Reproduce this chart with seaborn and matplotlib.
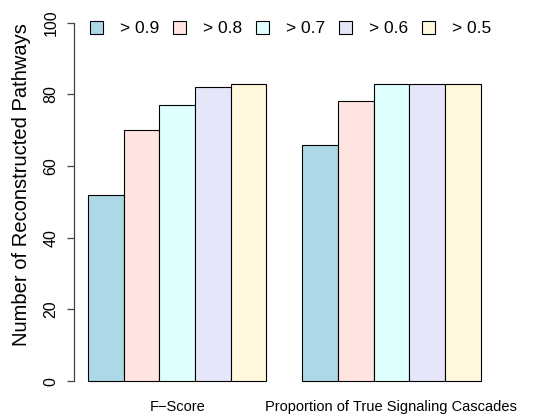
import matplotlib
matplotlib.use("Agg")
import matplotlib.pyplot as plt
from matplotlib.patches import Patch
import pandas as pd
import seaborn as sns

metrics = ["F\u2212Score", "Proportion of True Signaling Cascades"]
thresholds = ["> 0.9", "> 0.8", "> 0.7", "> 0.6", "> 0.5"]
fscore = [52, 70, 77, 82, 83]
proportion = [66, 78, 83, 83, 83]
colors = ["#ADD8E6", "#FFE4E1", "#E0FFFF", "#E6E6FA", "#FFF8DC"]

df = pd.DataFrame({
    "metric": [metrics[0]] * 5 + [metrics[1]] * 5,
    "threshold": thresholds * 2,
    "count": fscore + proportion,
})

sns.set_style("white")
plt.rcParams["font.family"] = ["Liberation Sans", "DejaVu Sans"]
plt.rcParams["text.color"] = "black"
plt.rcParams["axes.labelcolor"] = "black"
plt.rcParams["xtick.color"] = "black"
plt.rcParams["ytick.color"] = "black"

fig = plt.figure(figsize=(5.45, 4.15), dpi=100)
ax = fig.add_axes([0.1352, 0.0472, 0.908 - 0.1352, 0.980 - 0.0472])

sns.barplot(data=df, x="metric", y="count", hue="threshold", order=metrics,
            hue_order=thresholds, palette=colors, width=5 / 6, saturation=1,
            edgecolor="black", linewidth=0.8, legend=False, ax=ax)

ax.set_xlim(-5 / 12 - 1 / 15, 1 + 5 / 12 + 1 / 15)
ax.set_ylim(-4, 104)
for s in ["top", "right", "bottom"]:
    ax.spines[s].set_visible(False)
ax.spines["left"].set_bounds(0, 100)
ax.spines["left"].set_color("#444444")
ax.spines["left"].set_linewidth(0.9)
ax.set_yticks([0, 20, 40, 60, 80, 100])
ax.set_yticklabels(["0", "20", "40", "60", "80", "100"], rotation=90, va="center",
                   fontsize=11.5)
ax.tick_params(axis="y", length=5, width=0.9, color="#444444", pad=6, left=True)
ax.tick_params(axis="x", length=0, pad=3, labelsize=10.5)
ax.set_xlabel("")
ax.set_ylabel("Number of Reconstructed Pathways", fontsize=14.5)
ax.yaxis.set_label_coords(-0.101, 0.545)

handles = [Patch(facecolor=c, edgecolor="black", linewidth=0.8) for c in colors]
fig.legend(handles, thresholds, loc="center left", bbox_to_anchor=(0.1651, 0.9313),
           ncol=5, frameon=False, fontsize=12.5, handlelength=0.75, handleheight=0.75,
           handletextpad=0.98, columnspacing=0.8, borderpad=0, borderaxespad=0)

fig.savefig("out.png", dpi=100)
